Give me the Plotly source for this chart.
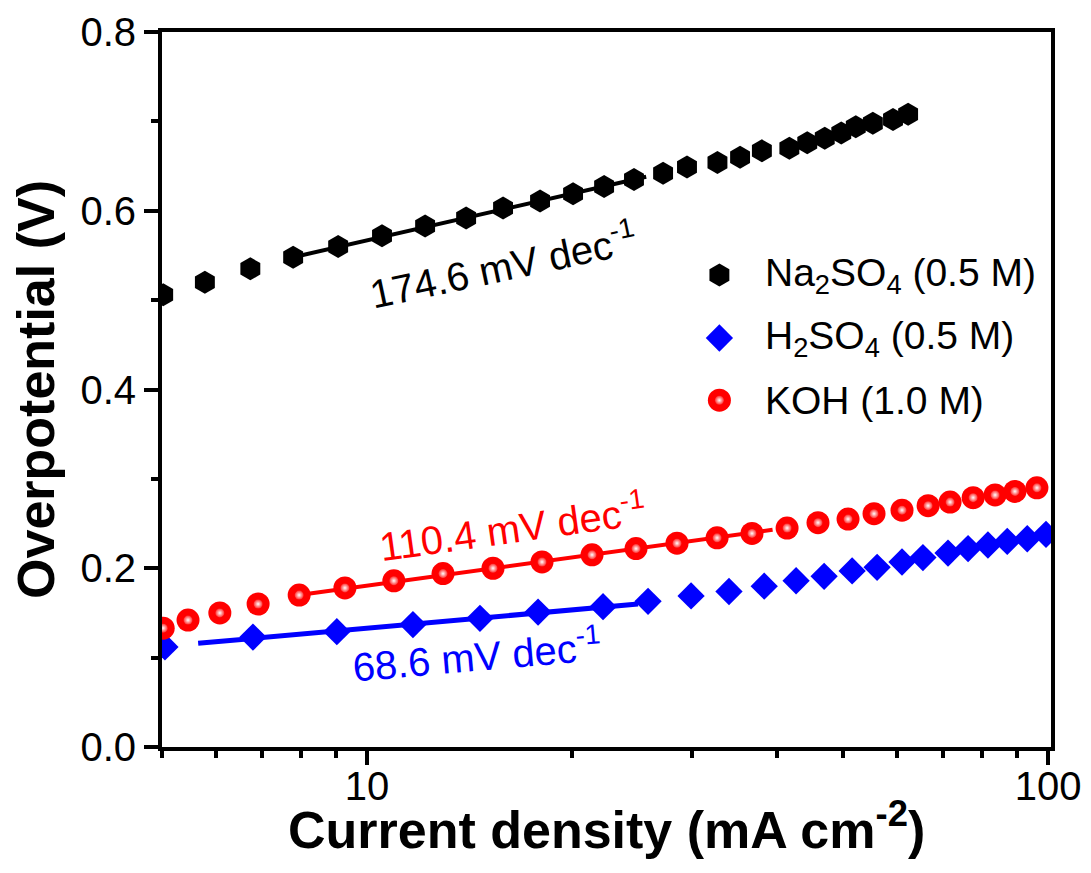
import plotly.graph_objects as go

# ---------------- data ----------------
na_x = [5.02, 5.78, 6.74, 7.79, 9.07, 10.52, 12.17, 13.98, 15.84, 17.95, 20.07, 22.29, 24.66,
        27.21, 29.5, 32.7, 35.3, 38.0, 41.7, 44.3, 47.0, 49.7, 52.2, 55.3, 59.2, 62.3]
na_y = [0.506, 0.520, 0.535, 0.548, 0.560, 0.572, 0.583, 0.592, 0.603, 0.611, 0.619, 0.627, 0.635,
        0.642, 0.649, 0.654, 0.660, 0.667, 0.670, 0.676, 0.681, 0.687, 0.694, 0.698, 0.702, 0.708]

h_x = [5.05, 6.80, 9.03, 11.68, 14.65, 17.83, 22.21, 25.86, 29.91, 34.0, 38.3, 42.66, 46.9,
       51.56, 56.1, 61.03, 65.5, 71.3, 76.3, 81.6, 87.1, 93.2, 99.3]
h_y = [0.112, 0.123, 0.129, 0.137, 0.144, 0.151, 0.157, 0.163, 0.169, 0.174, 0.180, 0.186, 0.191,
       0.197, 0.201, 0.207, 0.212, 0.217, 0.222, 0.226, 0.230, 0.233, 0.238]

koh_x = [5.02, 5.46, 6.08, 6.92, 7.95, 9.28, 10.95, 12.93, 15.31, 18.07, 21.40, 24.83, 28.52,
         32.66, 36.75, 41.38, 45.94, 50.85, 55.52, 61.03, 66.66, 71.80, 77.62, 83.6, 89.4, 96.3]
koh_y = [0.133, 0.142, 0.150, 0.160, 0.170, 0.178, 0.186, 0.194, 0.200, 0.207, 0.215, 0.222, 0.228,
         0.234, 0.239, 0.245, 0.251, 0.255, 0.261, 0.265, 0.270, 0.274, 0.279, 0.282, 0.286, 0.290]

# Tafel fit segments
fit_na_x = [7.79, 25.7]
fit_na_y = [0.548, 0.638]
fit_koh_x = [7.95, 39.4]
fit_koh_y = [0.170, 0.243]
fit_h_x = [5.65, 25.0]
fit_h_y = [0.116, 0.160]

names = ["Na<sub>2</sub>SO<sub>4</sub> (0.5 M)", "H<sub>2</sub>SO<sub>4</sub> (0.5 M)", "KOH (1.0 M)"]
slope_labels = ["174.6 mV dec<sup>-1</sup>", "110.4 mV dec<sup>-1</sup>", "68.6 mV dec<sup>-1</sup>"]
x_title = "<b>Current density (mA cm<sup>-2</sup>)</b>"
y_title = "<b>Overpotential (V)</b>"

FONT = "Liberation Sans, Arial, sans-serif"
BLACK, BLUE, RED = "#000000", "#0000ff", "#ff0000"

fig = go.Figure()

# fit lines (under markers)
fig.add_trace(go.Scatter(x=fit_na_x, y=fit_na_y, mode="lines", line=dict(color=BLACK, width=4),
                         showlegend=False, hoverinfo="skip"))
fig.add_trace(go.Scatter(x=fit_koh_x, y=fit_koh_y, mode="lines", line=dict(color=RED, width=4),
                         showlegend=False, hoverinfo="skip"))
fig.add_trace(go.Scatter(x=fit_h_x, y=fit_h_y, mode="lines", line=dict(color=BLUE, width=5),
                         showlegend=False, hoverinfo="skip"))

hex_m = dict(symbol="hexagon", size=23, color=BLACK, line=dict(width=0))
dia_m = dict(symbol="diamond", size=21, color=BLUE, line=dict(width=0))
cir_m = dict(symbol="circle", size=23, color=RED, line=dict(width=0))
hl_m = dict(symbol="circle", size=9, color="#ff3030", line=dict(width=0),
            gradient=dict(type="radial", color="#ffffff"))

# data
fig.add_trace(go.Scatter(x=na_x, y=na_y, mode="markers", name=names[0], marker=hex_m, showlegend=False))
fig.add_trace(go.Scatter(x=h_x, y=h_y, mode="markers", name=names[1], marker=dia_m, showlegend=False))
fig.add_trace(go.Scatter(x=koh_x, y=koh_y, mode="markers", name=names[2], marker=cir_m, showlegend=False))
fig.add_trace(go.Scatter(x=koh_x, y=koh_y, mode="markers", marker=hl_m, showlegend=False,
                         hoverinfo="skip"))

# ---- legend drawn on an overlay axis spanning the plot area (0..1 both ways) ----
LEG_X, LEG_TX = 0.627, 0.676
LEG_Y = [0.660, 0.572, 0.485]
for yy, m in zip(LEG_Y, [hex_m, dia_m, cir_m]):
    fig.add_trace(go.Scatter(x=[LEG_X], y=[yy], xaxis="x2", yaxis="y2", mode="markers",
                             marker=m, showlegend=False, hoverinfo="skip", cliponaxis=False))
fig.add_trace(go.Scatter(x=[LEG_X], y=[LEG_Y[2]], xaxis="x2", yaxis="y2", mode="markers",
                         marker=hl_m, showlegend=False, hoverinfo="skip", cliponaxis=False))
for yy, nm in zip(LEG_Y, names):
    fig.add_annotation(x=LEG_TX, y=yy, xref="x2", yref="y2", text=nm, showarrow=False,
                       xanchor="left", yanchor="middle",
                       font=dict(family=FONT, size=39, color="black"))

# slope annotations
ann_pos = [(0.384, 0.675, -12, BLACK), (0.394, 0.309, -8, RED), (0.354, 0.130, -5, BLUE)]
for (ax, ay, ang, col), txt in zip(ann_pos, slope_labels):
    fig.add_annotation(x=ax, y=ay, xref="paper", yref="paper", text=txt, showarrow=False,
                       textangle=ang, font=dict(family=FONT, size=40, color=col),
                       xanchor="center", yanchor="middle")

# x-axis title
fig.add_annotation(x=0.5, y=-0.111, xref="paper", yref="paper", text=x_title, showarrow=False,
                   xanchor="center", yanchor="middle", font=dict(family=FONT, size=52, color="black"))

x_minor = [5, 6, 7, 8, 9, 20, 30, 40, 50, 60, 70, 80, 90]

fig.update_layout(
    width=1091, height=873,
    margin=dict(l=162, r=40, t=32, b=126, autoexpand=False),
    paper_bgcolor="white", plot_bgcolor="white",
    font=dict(family=FONT, size=40, color="black"),
    showlegend=False,
    xaxis=dict(type="log", range=[0.69897, 2.0043], showgrid=False, zeroline=False,
               showline=True, linecolor="black", linewidth=4, mirror=True,
               ticks="outside", ticklen=14, tickwidth=4, tickcolor="black",
               tickvals=[10, 100], ticktext=["10", "100"],
               tickfont=dict(family=FONT, size=40), ticklabelstandoff=-13,
               minor=dict(tickvals=x_minor, ticks="outside", ticklen=7, tickwidth=4,
                          tickcolor="black", showgrid=False)),
    yaxis=dict(range=[0, 0.8], showgrid=False, zeroline=False,
               showline=True, linecolor="black", linewidth=4, mirror=True,
               ticks="outside", ticklen=14, tickwidth=4, tickcolor="black",
               tickvals=[0, 0.2, 0.4, 0.6, 0.8], ticktext=["0.0", "0.2", "0.4", "0.6", "0.8"],
               tickfont=dict(family=FONT, size=40), ticklabelstandoff=0,
               minor=dict(dtick=0.1, ticks="outside", ticklen=7, tickwidth=4,
                          tickcolor="black", showgrid=False),
               title=dict(text=y_title, font=dict(family=FONT, size=52), standoff=10)),
    xaxis2=dict(overlaying="x", range=[0, 1], visible=False, fixedrange=True),
    yaxis2=dict(overlaying="y", range=[0, 1], visible=False, fixedrange=True),
)

fig.write_html("out.html")
